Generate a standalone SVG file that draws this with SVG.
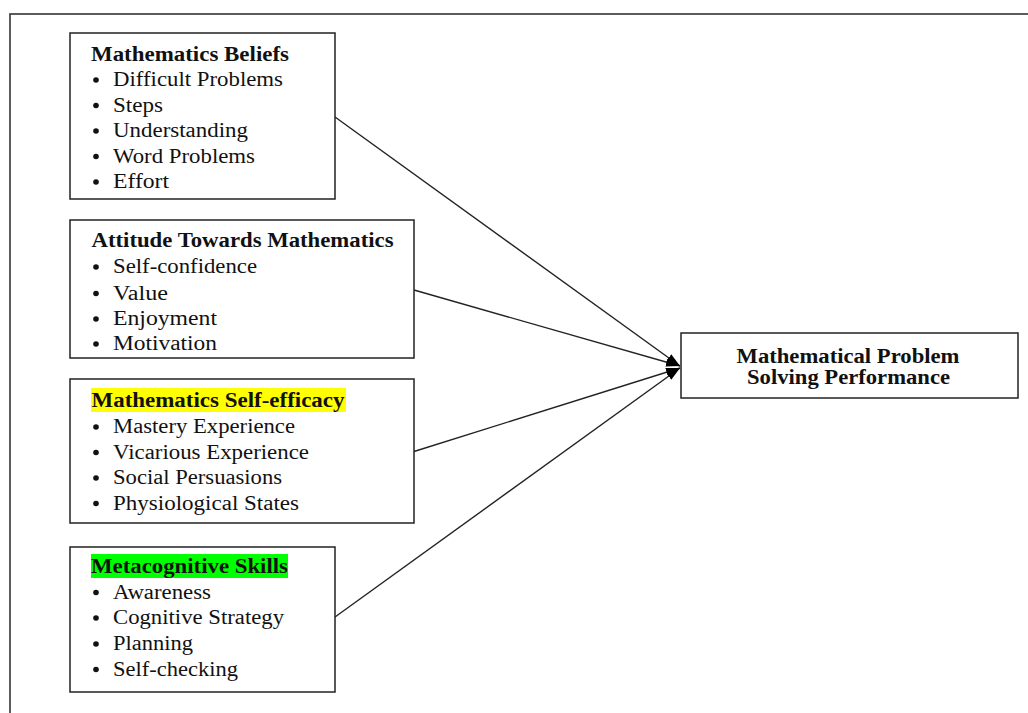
<svg xmlns="http://www.w3.org/2000/svg" width="1028" height="713" viewBox="0 0 1028 713">
<style>
.box{fill:#fff;stroke:#222;stroke-width:1.5}
.t{font-family:"Liberation Serif","Times New Roman",serif;font-size:20.5px;fill:#111}
.b{font-weight:bold}
.dot{fill:#111}
.con{stroke:#222;stroke-width:1.4;fill:none;marker-end:url(#ah)}
</style>
<defs>
<marker id="ah" markerUnits="userSpaceOnUse" markerWidth="15" markerHeight="11" refX="14" refY="5.5" orient="auto">
<path d="M0,1 L14,5.5 L0,10 z" fill="#000"/>
</marker>
</defs>
<rect x="10" y="14" width="1040" height="720" fill="none" stroke="#333" stroke-width="1.6"/>
<g id="connectors">
<line class="con" x1="335" y1="117" x2="680" y2="366"/>
<line class="con" x1="414" y1="290" x2="680" y2="366"/>
<line class="con" x1="414" y1="451.5" x2="680" y2="368"/>
<line class="con" x1="335" y1="617" x2="680" y2="368"/>
</g>
<g id="beliefs">
<rect class="box" x="70" y="33" width="265" height="166"/>
<text class="t b" x="91" y="61" textLength="198" lengthAdjust="spacingAndGlyphs">Mathematics Beliefs</text>
<circle class="dot" cx="96" cy="80" r="2.8"/><text class="t" x="113" y="86" textLength="170" lengthAdjust="spacingAndGlyphs">Difficult Problems</text>
<circle class="dot" cx="96" cy="105.5" r="2.8"/><text class="t" x="113" y="111.5" textLength="50" lengthAdjust="spacingAndGlyphs">Steps</text>
<circle class="dot" cx="96" cy="131" r="2.8"/><text class="t" x="113" y="137" textLength="135" lengthAdjust="spacingAndGlyphs">Understanding</text>
<circle class="dot" cx="96" cy="156.5" r="2.8"/><text class="t" x="113" y="162.5" textLength="142" lengthAdjust="spacingAndGlyphs">Word Problems</text>
<circle class="dot" cx="96" cy="182" r="2.8"/><text class="t" x="113" y="188" textLength="56" lengthAdjust="spacingAndGlyphs">Effort</text>
</g>
<g id="attitude">
<rect class="box" x="70" y="220" width="344" height="138"/>
<text class="t b" x="91.5" y="247" textLength="302" lengthAdjust="spacingAndGlyphs">Attitude Towards Mathematics</text>
<circle class="dot" cx="96" cy="267" r="2.8"/><text class="t" x="113" y="273" textLength="144" lengthAdjust="spacingAndGlyphs">Self-confidence</text>
<circle class="dot" cx="96" cy="293.5" r="2.8"/><text class="t" x="113" y="299.5" textLength="55" lengthAdjust="spacingAndGlyphs">Value</text>
<circle class="dot" cx="96" cy="319" r="2.8"/><text class="t" x="113" y="325" textLength="104" lengthAdjust="spacingAndGlyphs">Enjoyment</text>
<circle class="dot" cx="96" cy="344" r="2.8"/><text class="t" x="113" y="350" textLength="104" lengthAdjust="spacingAndGlyphs">Motivation</text>
</g>
<g id="selfefficacy">
<rect class="box" x="70" y="379" width="344" height="144"/>
<rect x="91" y="388" width="255" height="24" fill="#ffff00"/>
<text class="t b" x="91.5" y="407" textLength="253" lengthAdjust="spacingAndGlyphs">Mathematics Self-efficacy</text>
<circle class="dot" cx="96" cy="427" r="2.8"/><text class="t" x="113" y="433" textLength="182" lengthAdjust="spacingAndGlyphs">Mastery Experience</text>
<circle class="dot" cx="96" cy="452.5" r="2.8"/><text class="t" x="113" y="458.5" textLength="196" lengthAdjust="spacingAndGlyphs">Vicarious Experience</text>
<circle class="dot" cx="96" cy="478" r="2.8"/><text class="t" x="113" y="484" textLength="169" lengthAdjust="spacingAndGlyphs">Social Persuasions</text>
<circle class="dot" cx="96" cy="503.5" r="2.8"/><text class="t" x="113" y="509.5" textLength="186" lengthAdjust="spacingAndGlyphs">Physiological States</text>
</g>
<g id="metacognitive">
<rect class="box" x="70" y="547" width="265" height="145"/>
<rect x="91" y="554" width="197" height="24" fill="#00ff00"/>
<text class="t b" x="91" y="573" textLength="197" lengthAdjust="spacingAndGlyphs">Metacognitive Skills</text>
<circle class="dot" cx="96" cy="592.5" r="2.8"/><text class="t" x="113" y="598.5" textLength="98" lengthAdjust="spacingAndGlyphs">Awareness</text>
<circle class="dot" cx="96" cy="618" r="2.8"/><text class="t" x="113" y="624" textLength="171" lengthAdjust="spacingAndGlyphs">Cognitive Strategy</text>
<circle class="dot" cx="96" cy="644" r="2.8"/><text class="t" x="113" y="650" textLength="80" lengthAdjust="spacingAndGlyphs">Planning</text>
<circle class="dot" cx="96" cy="669.5" r="2.8"/><text class="t" x="113" y="675.5" textLength="125" lengthAdjust="spacingAndGlyphs">Self-checking</text>
</g>
<g id="performance">
<rect class="box" x="681" y="333" width="337" height="65"/>
<text class="t b" x="848" y="363" text-anchor="middle" textLength="223" lengthAdjust="spacingAndGlyphs">Mathematical Problem</text>
<text class="t b" x="848.5" y="383.5" text-anchor="middle" textLength="203" lengthAdjust="spacingAndGlyphs">Solving Performance</text>
</g>
</svg>
